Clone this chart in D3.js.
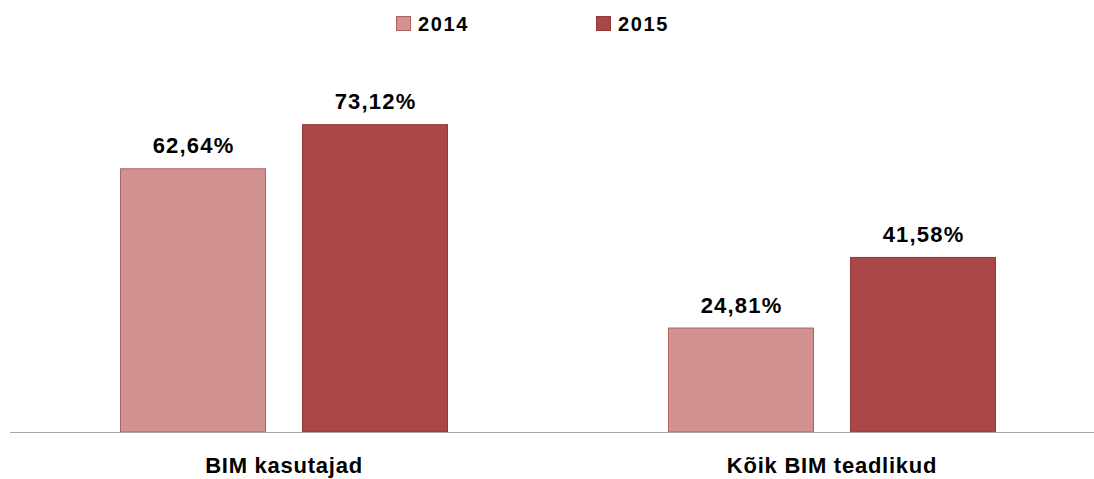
<!DOCTYPE html>
<html><head><meta charset="utf-8">
<script src="https://cdn.jsdelivr.net/npm/d3@7"></script>
<style>body{margin:0;background:#fff}</style>
</head><body><svg id="c" width="1094" height="479"></svg>
<script>
const categories = ["BIM kasutajad", "Kõik BIM teadlikud"];
const seriesNames = ["2014", "2015"];
const values2014 = [62.64, 24.81];
const values2015 = [73.12, 41.58];
const fills = ["#D39292", "#A94646"];
const strokes = ["#B06060", "#8E3A3A"];

const svg = d3.select("#c");
const font = "'Liberation Sans', Arial, sans-serif";
const x0 = d3.scaleBand().domain(categories).range([10, 1106]).paddingInner(0).paddingOuter(0);
const x1 = d3.scaleBand().domain(seriesNames).range([0, 328]).paddingInner(36/182).paddingOuter(0);
const y = d3.scaleLinear().domain([0, 100]).range([432, 11]);

const data = categories.map((c, i) => ({cat: c, vals: [values2014[i], values2015[i]]}));

const g = svg.append("g");
data.forEach(d => {
  const gx = x0(d.cat) + x0.bandwidth()/2 - 164;
  d.vals.forEach((v, j) => {
    const bx = gx + x1(seriesNames[j]);
    g.append("rect").attr("x", bx + 0.5).attr("y", y(v) + 0.5)
      .attr("width", x1.bandwidth() - 1).attr("height", y(0) - y(v) - 0.5)
      .attr("fill", fills[j]).attr("stroke", strokes[j]).attr("stroke-width", 1);
    g.append("text").attr("x", bx + x1.bandwidth()/2 + 0.6).attr("y", y(v) - 15)
      .attr("text-anchor", "middle").attr("font-family", font).attr("font-weight", "bold")
      .attr("font-size", 22).attr("letter-spacing", 1.2).attr("fill", "#000")
      .text(v.toFixed(2).replace(".", ",") + "%");
  });
});

const axis = svg.append("g").attr("transform", `translate(0,${y(0)})`)
  .call(d3.axisBottom(x0).tickSize(0).tickPadding(0));
axis.select(".domain").attr("stroke", "#A6A6A6").attr("stroke-width", 1.2).attr("d", "M10,0.5H1094");
axis.selectAll(".tick text").attr("dy", null).attr("y", 41).attr("font-family", font).attr("font-weight", "bold")
  .attr("font-size", 22).attr("letter-spacing", 0.75).attr("fill", "#000");

const legendX = [396, 596];
seriesNames.forEach((s, j) => {
  const lg = svg.append("g").attr("transform", `translate(${legendX[j]},0)`);
  lg.append("rect").attr("x", 0.5).attr("y", 16.5).attr("width", 14).attr("height", 14)
    .attr("fill", fills[j]).attr("stroke", strokes[j]);
  lg.append("text").attr("x", 22).attr("y", 31).attr("font-family", font)
    .attr("font-weight", "bold").attr("font-size", 20).attr("letter-spacing", 1.6).attr("fill", "#000").text(s);
});
</script></body></html>
